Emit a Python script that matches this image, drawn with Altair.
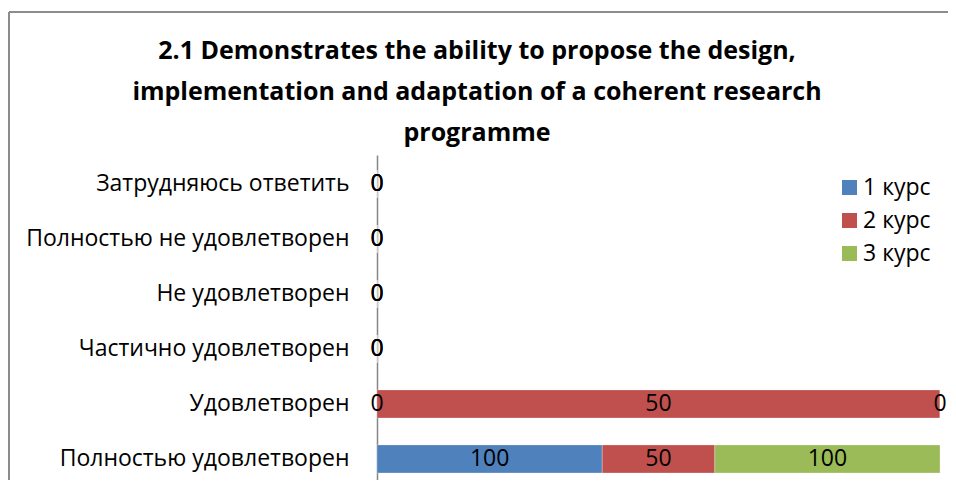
import altair as alt
import pandas as pd

categories = [
    "Затрудняюсь ответить",
    "Полностью не удовлетворен",
    "Не удовлетворен",
    "Частично удовлетворен",
    "Удовлетворен",
    "Полностью удовлетворен",
]
series = ["1 курс", "2 курс", "3 курс"]
values_1 = [0, 0, 0, 0, 0, 100]
values_2 = [0, 0, 0, 0, 50, 50]
values_3 = [0, 0, 0, 0, 0, 100]
colors = ["#4F81BD", "#C0504D", "#9BBB59"]
title_lines = [
    "2.1 Demonstrates the ability to propose the design,",
    "implementation and adaptation of a coherent research",
    "programme",
]

rows = []
for s_i, (s, vals) in enumerate(zip(series, [values_1, values_2, values_3])):
    for c, v in zip(categories, vals):
        rows.append({"cat": c, "series": s, "ord": s_i, "value": v})
df = pd.DataFrame(rows)
one = pd.DataFrame({"k": [0]})

FONT = "Open Sans"
FS = 23
W, H = 563, 325

base = (
    alt.Chart(df)
    .transform_joinaggregate(total="sum(value)", groupby=["cat"])
    .transform_calculate(pct="datum.total > 0 ? datum.value / datum.total : 0")
    .transform_stack(stack="pct", groupby=["cat"], as_=["x0", "x1"], sort=[alt.SortField("ord")])
    .transform_calculate(mid="(datum.x0 + datum.x1) / 2")
)

yenc = alt.Y(
    "cat:N",
    sort=categories,
    title=None,
    scale=alt.Scale(paddingInner=0.49, paddingOuter=0.2, align=0.68),
    axis=alt.Axis(
        domainColor="#868686",
        domainWidth=1.5,
        ticks=False,
        labelFont=FONT,
        labelFontSize=FS,
        labelColor="#000000",
        labelPadding=28,
        labelLimit=400,
    ),
)

xscale = alt.Scale(domain=[0, 1], nice=False, zero=True)

bars = base.mark_bar(stroke="#ffffff", strokeOpacity=0.25, strokeWidth=1).encode(
    y=yenc,
    x=alt.X("x0:Q", scale=xscale, axis=None),
    x2="x1:Q",
    color=alt.Color(
        "series:N",
        sort=series,
        scale=alt.Scale(domain=series, range=colors),
        legend=alt.Legend(
            title=None,
            orient="none",
            legendX=461,
            legendY=21,
            symbolType="square",
            symbolSize=225,
            symbolStrokeWidth=0,
            labelFont=FONT,
            labelFontSize=FS,
            labelColor="#000000",
            rowPadding=9,
            labelOffset=2,
        ),
    ),
)

labels = base.mark_text(font=FONT, fontSize=FS, color="#000000", baseline="middle", align="center").encode(
    y=alt.Y("cat:N", sort=categories),
    x=alt.X("mid:Q", scale=xscale),
    text=alt.Text("value:Q"),
)

title = alt.Chart(one).mark_text(
    font=FONT, fontSize=25, fontWeight="bold", color="#000000",
    align="center", baseline="alphabetic", lineHeight=41,
).encode(
    text=alt.value(title_lines),
    x=alt.value(477 - 377),
    y=alt.value(59 - 155),
)

frame_v = alt.Chart(one).mark_rule(color="#8c8c8c", strokeWidth=2).encode(
    x=alt.value(9 - 377), y=alt.value(12 - 155), y2=alt.value(H + 20)
)
frame_h = alt.Chart(one).mark_rule(color="#8c8c8c", strokeWidth=2).encode(
    x=alt.value(9 - 377), x2=alt.value(W + 60), y=alt.value(12 - 155)
)

chart = (
    alt.layer(bars, labels, title, frame_v, frame_h)
    .properties(
        width=W,
        height=H,
        autosize=alt.AutoSizeParams(type="none"),
        padding={"left": 369, "top": 147, "right": 8, "bottom": 0},
    )
    .configure_view(stroke=None)
)

chart.save("out.html", embed_options={"renderer": "svg", "actions": False})
